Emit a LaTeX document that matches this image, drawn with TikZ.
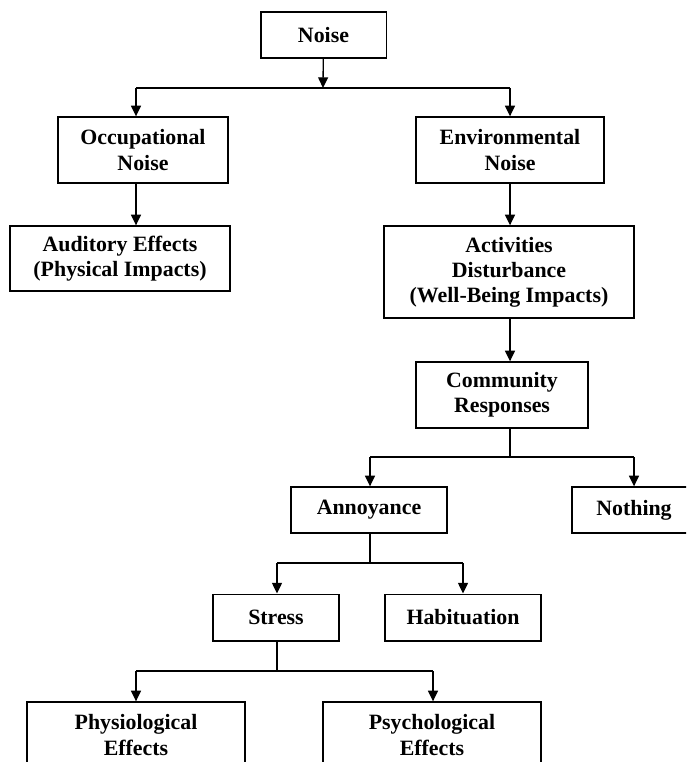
\documentclass[tikz,border=0pt]{standalone}
\usepackage{fontspec}
\setmainfont{Liberation Serif}
\usepackage{tikz}
\usetikzlibrary{arrows.meta, positioning}
\tikzset{
    box/.style={draw, line width=1pt, align=center, inner sep=0pt, font=\bfseries\fontsize{16.4}{18.8}\selectfont}, % every box
    line/.style={line width=1pt},
}
\tikzstyle{arrow} = [line width=1pt, -{Triangle[length=8pt, width=7.5pt]}]

\begin{document}
\begin{tikzpicture}[x=0.75pt, y=-0.75pt]
    \useasboundingbox (0,0) rectangle (686,762);
    \clip (0,0) rectangle (686,762);

    % Boxes
    \node[box, minimum width=94pt, minimum height=34.5pt] (noise) at (323.5,35) {Noise};
    \node[box, minimum width=127.5pt, minimum height=49.5pt] (occ) at (143,150) {Occupational\\Noise};
    \node[box, minimum width=141pt, minimum height=49.5pt] (env) at (510,150) {Environmental\\Noise};
    \node[box, minimum width=165pt, minimum height=48.75pt] (aud) at (120,258.5) {Auditory Effects\\(Physical Impacts)};
    \node[box, minimum width=187.5pt, minimum height=69pt] (act) at (509,272) {Activities\\Disturbance\\(Well-Being Impacts)};
    \node[box, minimum width=129pt, minimum height=49.5pt] (com) at (502,395) {Community\\Responses};
    \node[box, minimum width=117pt, minimum height=34.5pt] (ann) at (369,510) {Annoyance};
    \node[box, minimum width=93pt, minimum height=34.5pt] (noth) at (634,510) {Nothing};
    \node[box, minimum width=94.5pt, minimum height=35pt] (stress) at (276,617.5) {Stress};
    \node[box, minimum width=117pt, minimum height=35pt] (hab) at (463,617.5) {Habituation};
    \node[box, minimum width=163.5pt, minimum height=49.5pt] (phys) at (136,735) {Physiological\\Effects};
    \node[box, minimum width=163.5pt, minimum height=49.5pt] (psy) at (432,735) {Psychological\\Effects};

    % Junctions
    \coordinate (n1) at (323,88);
    \coordinate (n1l) at (136,88);
    \coordinate (n1r) at (510,88);
    \coordinate (c1) at (510,457);
    \coordinate (c1l) at (370,457);
    \coordinate (c1r) at (634,457);
    \coordinate (a1) at (370,563);
    \coordinate (a1l) at (277,563);
    \coordinate (a1r) at (463,563);
    \coordinate (s1) at (277,671);
    \coordinate (s1l) at (136,671);
    \coordinate (s1r) at (433,671);

    % Connectors
    \draw[arrow] (noise) -- (n1);
    \draw[line] (n1l) -- (n1r);
    \draw[arrow] (n1l) -- (n1l |- occ.north);
    \draw[arrow] (n1r) -- (n1r |- env.north);
    \draw[arrow] (n1l |- occ.south) -- (n1l |- aud.north);
    \draw[arrow] (n1r |- env.south) -- (n1r |- act.north);
    \draw[arrow] (n1r |- act.south) -- (n1r |- com.north);

    \draw[line] (c1 |- com.south) -- (c1);
    \draw[line] (c1l) -- (c1r);
    \draw[arrow] (c1l) -- (c1l |- ann.north);
    \draw[arrow] (c1r) -- (c1r |- noth.north);

    \draw[line] (a1 |- ann.south) -- (a1);
    \draw[line] (a1l) -- (a1r);
    \draw[arrow] (a1l) -- (a1l |- stress.north);
    \draw[arrow] (a1r) -- (a1r |- hab.north);

    \draw[line] (s1 |- stress.south) -- (s1);
    \draw[line] (s1l) -- (s1r);
    \draw[arrow] (s1l) -- (s1l |- phys.north);
    \draw[arrow] (s1r) -- (s1r |- psy.north);
\end{tikzpicture}
\end{document}
